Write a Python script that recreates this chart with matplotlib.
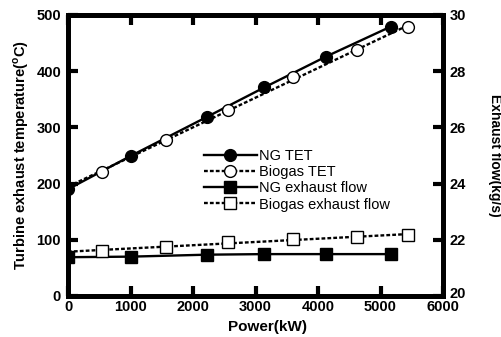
import numpy as np
import matplotlib
matplotlib.use("Agg")
import matplotlib.pyplot as plt
from matplotlib.lines import Line2D
import matplotlib.transforms as mtransforms

plt.rcParams['font.family'] = ['Liberation Sans', 'DejaVu Sans']
plt.rcParams['mathtext.fontset'] = 'custom'
plt.rcParams['mathtext.rm'] = 'Liberation Sans'
plt.rcParams['mathtext.bf'] = 'Liberation Sans:bold'

# Data
ng_power = [0, 1000, 2230, 3140, 4130, 5160]
ng_tet = [190, 249, 319, 371, 426, 479]
bio_power = [549, 1563, 2555, 3605, 4629, 5445]
bio_tet = [221, 277, 331, 389, 438, 479]
ng_flow = [21.38, 21.40, 21.47, 21.49, 21.49, 21.49]
bio_flow = [21.61, 21.75, 21.91, 22.02, 22.11, 22.17]

x_ticks = [0, 1000, 2000, 3000, 4000, 5000, 6000]
left_ticks = [0, 100, 200, 300, 400, 500]
right_ticks = [20, 22, 24, 26, 28, 30]

fig = plt.figure(figsize=(5.02, 3.37), dpi=100)
ax = fig.add_axes([0.1355, 0.1217, 0.747, 0.834])
ax2 = ax.twinx()

lw = 1.7
ms_c = 8.5
ms_s = 8.0
dash = (0, (1.6, 0.9))

# fitted lines for biogas series (drawn from x=0)
xb = np.array([0, max(bio_power)])
pt = np.polyfit(bio_power, bio_tet, 1)
pf = np.polyfit(bio_power, bio_flow, 1)

ax.plot(ng_power, ng_tet, '-', color='black', lw=lw, marker='o', ms=ms_c,
        mfc='black', mec='black', zorder=3)
ax.plot(xb, np.polyval(pt, xb), color='black', lw=lw, linestyle=dash, zorder=2)
ax.plot(bio_power, bio_tet, 'none', marker='o', ms=ms_c, mfc='white',
        mec='black', mew=1.0, zorder=4)
ax2.plot(ng_power, ng_flow, '-', color='black', lw=lw, marker='s', ms=ms_s,
         mfc='black', mec='black', zorder=3)
ax2.plot(xb, np.polyval(pf, xb), color='black', lw=lw, linestyle=dash, zorder=2)
ax2.plot(bio_power, bio_flow, 'none', marker='s', ms=ms_s, mfc='white',
         mec='black', mew=1.0, zorder=4)

h1 = Line2D([], [], color='black', lw=lw, marker='o', ms=ms_c, mfc='black', mec='black')
h2 = Line2D([], [], color='black', lw=lw, linestyle=dash, marker='o', ms=ms_c, mfc='white', mec='black', mew=1.0)
h3 = Line2D([], [], color='black', lw=lw, marker='s', ms=ms_s, mfc='black', mec='black')
h4 = Line2D([], [], color='black', lw=lw, linestyle=dash, marker='s', ms=ms_s, mfc='white', mec='black', mew=1.0)
leg = ax2.legend([h1, h2, h3, h4], ['NG TET', 'Biogas TET', 'NG exhaust flow', 'Biogas exhaust flow'],
                 loc='upper left', bbox_to_anchor=(204/502, 1 - 149/337), bbox_transform=fig.transFigure,
                 frameon=False, fontsize=10.5, handlelength=3.6, handletextpad=0.15,
                 labelspacing=0.15, borderpad=0, borderaxespad=0)

ax.set_xlim(0, 6000)
ax.set_ylim(0, 500)
ax2.set_ylim(20, 30)
ax.set_xticks(x_ticks)
ax.set_yticks(left_ticks)
ax2.set_yticks(right_ticks)

for a in (ax, ax2):
    for s in a.spines.values():
        s.set_linewidth(3.5)
ax.tick_params(axis='x', direction='in', length=7, width=3, top=True, labelsize=10.5, pad=3)
ax.tick_params(axis='y', direction='in', length=7, width=3, labelsize=10.5, pad=5)
ax2.tick_params(axis='y', direction='in', length=7, width=3, labelsize=10.5, pad=5)
for lab in ax.get_xticklabels() + ax.get_yticklabels() + ax2.get_yticklabels():
    lab.set_fontweight('bold')

# nudge the bottom right-axis label up slightly (as in the reference)
lab20 = ax2.get_yticklabels()[0]
lab20.set_transform(lab20.get_transform() + mtransforms.ScaledTranslation(0, 3/100, fig.dpi_scale_trans))

ax.set_xlabel('Power(kW)', fontsize=11, fontweight='bold')
ax.xaxis.set_label_coords(0.533, -0.085)
ax.xaxis.label.set_va('top')
ax.set_ylabel(r'Turbine exhaust temperature($^\mathbf{o}$C)', fontsize=10.5, fontweight='bold', labelpad=4)
ax2.set_ylabel('Exhaust flow(kg/s)', fontsize=10, fontweight='bold', rotation=270)
ax2.yaxis.set_label_coords(1.139, 0.5)
ax2.yaxis.label.set_ha('center')
ax2.yaxis.label.set_va('center')

fig.savefig('out.png', dpi=100)
